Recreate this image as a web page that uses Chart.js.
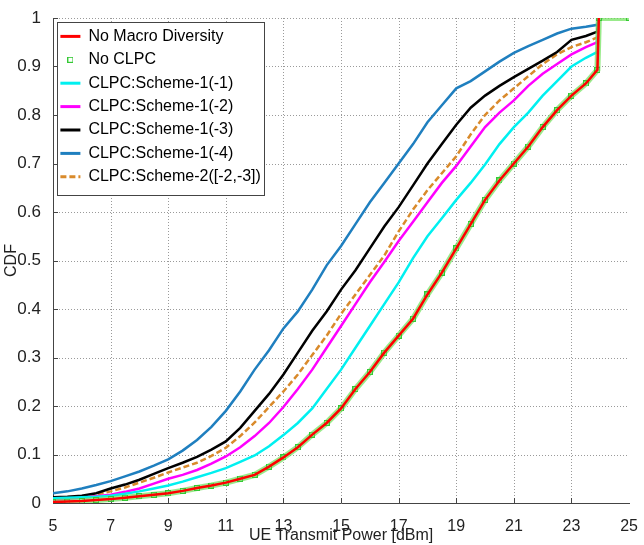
<!DOCTYPE html>
<html>
<head>
<meta charset="utf-8">
<title>UE Transmit Power CDF</title>
<script src="https://cdn.jsdelivr.net/npm/chart.js@4.4.1/dist/chart.umd.min.js"></script>
<style>
    html, body { margin: 0; padding: 0; background: #fff; }
    canvas { display: block; }
</style>
</head>
<body>
<canvas id="cdfChart" width="644" height="545"></canvas>
<script>
// UE transmit power samples [dBm] shared by every curve
const txPower = [5, 5.5, 6, 6.5, 7, 7.5, 8, 8.5, 9, 9.5, 10, 10.5, 11, 11.5, 12, 12.5, 13, 13.5, 14, 14.5,
    15, 15.5, 16, 16.5, 17, 17.5, 18, 18.5, 19, 19.5, 20, 20.5, 21, 21.5, 22, 22.5, 23, 23.5, 23.9];
// every curve steps up to 1 at max power
const maxPower = 23.95;
const maxPowerEnd = 25;

const noMacroDiv = [0.002, 0.003, 0.004, 0.006, 0.008, 0.011, 0.014, 0.017, 0.02, 0.025, 0.031, 0.036, 0.042, 0.05, 0.058, 0.075, 0.094, 0.115, 0.141, 0.165,
    0.195, 0.235, 0.27, 0.31, 0.345, 0.38, 0.43, 0.475, 0.525, 0.575, 0.625, 0.665, 0.70, 0.735, 0.775, 0.81, 0.84, 0.865, 0.893];
const noClpc = [0.002, 0.003, 0.004, 0.006, 0.008, 0.011, 0.014, 0.017, 0.02, 0.025, 0.031, 0.036, 0.042, 0.05, 0.058, 0.075, 0.094, 0.115, 0.141, 0.165,
    0.195, 0.235, 0.27, 0.31, 0.345, 0.38, 0.43, 0.475, 0.525, 0.575, 0.625, 0.665, 0.70, 0.735, 0.775, 0.81, 0.84, 0.865, 0.893];
const scheme1m1 = [0.01, 0.011, 0.012, 0.013, 0.015, 0.019, 0.024, 0.03, 0.036, 0.044, 0.053, 0.062, 0.072, 0.085, 0.098, 0.117, 0.14, 0.165, 0.195, 0.235,
    0.275, 0.32, 0.365, 0.41, 0.455, 0.505, 0.55, 0.587, 0.625, 0.66, 0.698, 0.74, 0.775, 0.805, 0.84, 0.87, 0.9, 0.918, 0.93];
const scheme1m2 = [0.007, 0.009, 0.011, 0.014, 0.017, 0.023, 0.03, 0.04, 0.05, 0.058, 0.068, 0.081, 0.096, 0.115, 0.138, 0.165, 0.198, 0.235, 0.275, 0.32,
    0.365, 0.41, 0.455, 0.497, 0.54, 0.58, 0.62, 0.66, 0.695, 0.735, 0.775, 0.805, 0.83, 0.86, 0.885, 0.905, 0.925, 0.94, 0.95];
const scheme1m3 = [0.012, 0.013, 0.015, 0.02, 0.03, 0.038, 0.048, 0.06, 0.072, 0.083, 0.095, 0.11, 0.127, 0.155, 0.19, 0.225, 0.265, 0.31, 0.355, 0.395,
    0.44, 0.48, 0.525, 0.57, 0.61, 0.655, 0.70, 0.74, 0.78, 0.815, 0.84, 0.86, 0.878, 0.895, 0.912, 0.93, 0.955, 0.963, 0.972];
const scheme1m4 = [0.02, 0.024, 0.03, 0.037, 0.045, 0.055, 0.065, 0.077, 0.09, 0.108, 0.13, 0.157, 0.19, 0.23, 0.275, 0.315, 0.36, 0.395, 0.44, 0.49,
    0.53, 0.575, 0.62, 0.66, 0.70, 0.74, 0.785, 0.82, 0.855, 0.87, 0.89, 0.91, 0.928, 0.942, 0.955, 0.968, 0.978, 0.982, 0.986];
const scheme2 = [0.009, 0.011, 0.013, 0.017, 0.024, 0.032, 0.042, 0.052, 0.063, 0.073, 0.083, 0.097, 0.114, 0.138, 0.166, 0.198, 0.23, 0.265, 0.305, 0.345,
    0.39, 0.43, 0.47, 0.51, 0.56, 0.605, 0.645, 0.68, 0.715, 0.76, 0.80, 0.83, 0.855, 0.88, 0.905, 0.925, 0.94, 0.95, 0.96];

const xTicks = [5, 7, 9, 11, 13, 15, 17, 19, 21, 23, 25];
const yTicks = [0, 0.1, 0.2, 0.3, 0.4, 0.5, 0.6, 0.7, 0.8, 0.9, 1];
const yTickLabels = ['0', '0.1', '0.2', '0.3', '0.4', '0.5', '0.6', '0.7', '0.8', '0.9', '1'];

const FONT = "'Liberation Sans', Arial, Helvetica, sans-serif";

function toPoints(values, tail) {
    const pts = txPower.map((x, i) => ({ x: x, y: values[i] }));
    pts.push({ x: maxPower, y: 1 });
    if (tail) pts.push({ x: maxPowerEnd, y: 1 });
    return pts;
}

// small open square used as the "No CLPC" marker
const squareMark = document.createElement('canvas');
squareMark.width = 6;
squareMark.height = 6;
const sq = squareMark.getContext('2d');
sq.strokeStyle = '#35c935';
sq.lineWidth = 1;
sq.strokeRect(0.5, 0.5, 5, 5);

function lineSet(label, values, color, dash) {
    return {
        label: label,
        data: toPoints(values, false),
        borderColor: color,
        backgroundColor: color,
        borderWidth: 2.5,
        borderDash: dash || [],
        pointStyle: 'line',
        pointRadius: 0,
        pointHoverRadius: 0,
        pointBorderWidth: 3,
        tension: 0
    };
}

const datasets = [
    lineSet('No Macro Diversity', noMacroDiv, '#ff0000'),
    {
        label: 'No CLPC',
        data: toPoints(noClpc, true),
        borderColor: 'rgba(110, 225, 90, 0.7)',
        backgroundColor: 'rgba(0,0,0,0)',
        borderWidth: 6,
        pointStyle: squareMark,
        pointRadius: 3,
        pointHoverRadius: 3,
        tension: 0
    },
    lineSet('CLPC:Scheme-1(-1)', scheme1m1, '#00f0f0'),
    lineSet('CLPC:Scheme-1(-2)', scheme1m2, '#ff00ff'),
    lineSet('CLPC:Scheme-1(-3)', scheme1m3, '#000000'),
    lineSet('CLPC:Scheme-1(-4)', scheme1m4, '#1f7fbf'),
    lineSet('CLPC:Scheme-2([-2,-3])', scheme2, '#d98a2b', [6, 3])
];

// dotted grid + short inward tick marks, placed with the chart's own scales
const dottedGrid = {
    id: 'dottedGrid',
    beforeDatasetsDraw(chart) {
        const { ctx, scales: { x, y } } = chart;
        const left = x.left, right = x.right, top = y.top, bottom = y.bottom;
        const seg = (x0, y0, x1, y1) => { ctx.beginPath(); ctx.moveTo(x0, y0); ctx.lineTo(x1, y1); ctx.stroke(); };
        ctx.save();
        ctx.beginPath();
        ctx.rect(left, top, right - left, bottom - top);
        ctx.clip();
        ctx.lineWidth = 1;
        ctx.strokeStyle = '#9a9a9a';
        ctx.setLineDash([1, 2]);
        xTicks.slice(1).forEach(v => { const px = Math.round(x.getPixelForValue(v)) + 0.5; seg(px, top, px, bottom); });
        yTicks.slice(1).forEach(v => { const py = Math.round(y.getPixelForValue(v)) + 0.5; seg(left, py, right, py); });
        ctx.setLineDash([]);
        ctx.strokeStyle = '#444';
        xTicks.forEach(v => { const px = Math.round(x.getPixelForValue(v)) + 0.5; seg(px, bottom, px, bottom - 5); });
        yTicks.forEach(v => { const py = Math.round(y.getPixelForValue(v)) + 0.5; seg(left, py, left + 5, py); });
        ctx.restore();
    }
};

// legend sits inside the plot, top-left, in a white framed box
const legendFrame = {
    id: 'legendFrame',
    afterLayout(chart) {
        const lg = chart.legend;
        const area = chart.chartArea;
        const dx = area.left - lg.left;
        const dy = area.top + 3 - lg.top;
        lg.left += dx; lg.right += dx;
        lg.top += dy; lg.bottom += dy;
        (lg.legendHitBoxes || []).forEach(b => { b.left += dx; b.top += dy; });
    },
    afterDraw(chart) {
        const lg = chart.legend;
        const boxes = lg.legendHitBoxes;
        if (!boxes || !boxes.length) return;
        const { x, y } = chart.scales;
        let right = 0;
        boxes.forEach(b => { right = Math.max(right, b.left + b.width); });
        const last = boxes[boxes.length - 1];
        const x0 = Math.round(x.left + 4) + 0.5;
        const y0 = Math.round(y.top + 4) + 0.5;
        const x1 = Math.round(right + 3) + 0.5;
        const y1 = Math.round(last.top + last.height + 10) + 0.5;
        const ctx = chart.ctx;
        ctx.save();
        ctx.fillStyle = '#ffffff';
        ctx.fillRect(x0, y0, x1 - x0, y1 - y0);
        ctx.strokeStyle = '#444';
        ctx.lineWidth = 1;
        ctx.strokeRect(x0, y0, x1 - x0, y1 - y0);
        ctx.restore();
        lg.draw();
    }
};

const ctx = document.getElementById('cdfChart').getContext('2d');
const cdfChart = new Chart(ctx, {
    type: 'line',
    data: { datasets: datasets },
    plugins: [dottedGrid, legendFrame],
    options: {
        responsive: false,
        animation: false,
        devicePixelRatio: 1,
        layout: { padding: { top: 18, right: 10, left: 0, bottom: 0 } },
        plugins: {
            tooltip: { enabled: false },
            legend: {
                position: 'chartArea',
                align: 'start',
                labels: {
                    usePointStyle: true,
                    pointStyleWidth: 20,
                    padding: 7.4,
                    color: '#000',
                    font: { family: FONT, size: 16 },
                    generateLabels(chart) {
                        const items = Chart.defaults.plugins.legend.labels.generateLabels(chart);
                        items.forEach(it => {
                            const ds = chart.data.datasets[it.datasetIndex];
                            it.lineDash = ds.borderDash || [];
                            it.lineWidth = 3;
                        });
                        return items;
                    }
                }
            }
        },
        scales: {
            x: {
                type: 'linear',
                min: xTicks[0],
                max: xTicks[xTicks.length - 1],
                afterFit: scale => { scale.height = 42; },
                ticks: {
                    stepSize: xTicks[1] - xTicks[0],
                    color: '#222',
                    padding: 6,
                    maxRotation: 0,
                    autoSkip: false,
                    font: { family: FONT, size: 16 }
                },
                grid: { display: false },
                border: { display: true, color: '#444', width: 1 },
                title: {
                    display: true,
                    text: 'UE Transmit Power [dBm]',
                    color: '#222',
                    padding: { top: 0, bottom: 0 },
                    font: { family: FONT, size: 16 }
                }
            },
            y: {
                type: 'linear',
                min: yTicks[0],
                max: yTicks[yTicks.length - 1],
                afterFit: scale => { scale.width = 53; },
                ticks: {
                    stepSize: yTicks[1] - yTicks[0],
                    color: '#222',
                    padding: 4,
                    autoSkip: false,
                    font: { family: FONT, size: 17 },
                    callback: (value, index) => yTickLabels[index]
                },
                grid: { display: false },
                border: { display: true, color: '#444', width: 1 },
                title: {
                    display: true,
                    text: 'CDF',
                    color: '#222',
                    padding: { top: 2, bottom: 0 },
                    font: { family: FONT, size: 16 }
                }
            }
        }
    }
});
</script>
</body>
</html>
